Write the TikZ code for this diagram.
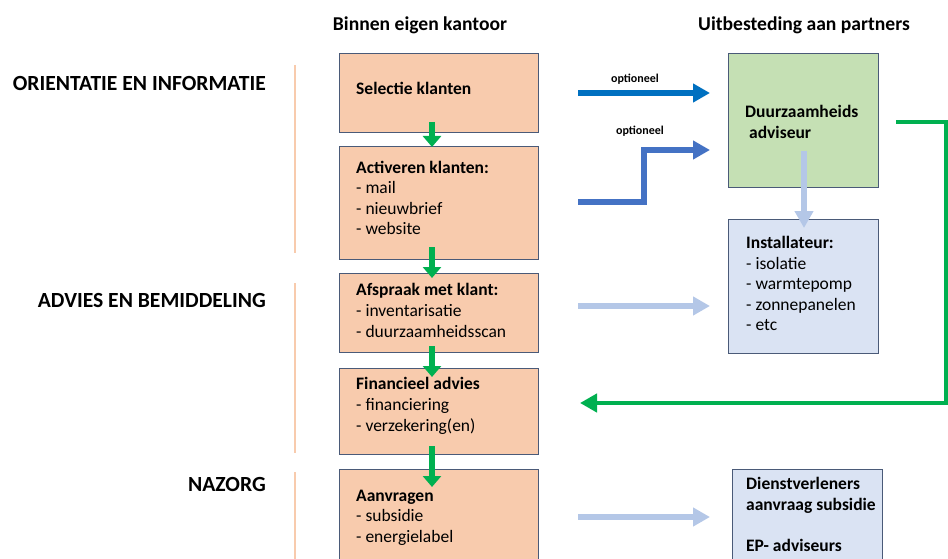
\documentclass[tikz,border=0pt]{standalone}
\usepackage{fontspec}
\setmainfont{Carlito}
\usetikzlibrary{arrows.meta}
\definecolor{boxorange}{HTML}{F8CBAD}
\definecolor{boxgreen}{HTML}{C5E0B4}
\definecolor{boxblue}{HTML}{DAE3F3}
\definecolor{boxline}{HTML}{4A5A78}
\definecolor{arrgreen}{HTML}{00B050}
\definecolor{arrblueA}{HTML}{0070C0}
\definecolor{arrblueB}{HTML}{4472C4}
\definecolor{arrlight}{HTML}{B4C7E7}
\definecolor{sepline}{HTML}{F8CBAD}
\tikzset{
  box/.style={draw=boxline, line width=1.3pt, inner sep=0pt, anchor=north west},
  orangebox/.style={box, fill=boxorange},
  greenbox/.style={box, fill=boxgreen},
  bluebox/.style={box, fill=boxblue},
  boxtext/.style={anchor=north west, align=left, inner sep=0pt, font=\fontsize{17.5}{20.6}\selectfont},
  flowarrow/.style={draw=arrgreen, line width=6pt, -{Triangle[length=11pt,width=18pt]}},
  bluearrowA/.style={draw=arrblueA, line width=5.5pt, -{Triangle[length=17pt,width=18pt]}},
  bluearrowB/.style={draw=arrblueB, line width=6pt, -{Triangle[length=17pt,width=18pt]}},
  lightarrow/.style={draw=arrlight, line width=6pt, -{Triangle[length=17pt,width=18pt]}},
  backarrow/.style={draw=arrgreen, line width=4.5pt, -{Triangle[length=17pt,width=18pt]}},
  header/.style={font=\bfseries\fontsize{19.6}{22}\selectfont, inner sep=0pt},
  phase/.style={font=\bfseries\fontsize{21.6}{24}\selectfont, inner sep=0pt, anchor=east},
  small/.style={font=\bfseries\fontsize{12}{14}\selectfont, inner sep=0pt},
  sep/.style={draw=sepline, line width=1.5pt}
}
\begin{document}
\begin{tikzpicture}[x=1pt,y=-1pt]
\useasboundingbox (0,0) rectangle (948,559);
\clip (0,0) rectangle (948,559);

% headers
\node[header] (h1) at (420,25) {Binnen eigen kantoor};
\node[header] (h2) at (804,25) {Uitbesteding aan partners};

% phase labels
\node[phase] (p1) at (266,83) {ORIENTATIE EN INFORMATIE};
\node[phase] (p2) at (266,300) {ADVIES EN BEMIDDELING};
\node[phase] (p3) at (266,484) {NAZORG};

% separators
\coordinate (s1a) at (295,65); \coordinate (s1b) at (295,253);
\coordinate (s2a) at (295,283); \coordinate (s2b) at (295,453);
\coordinate (s3a) at (295,472); \coordinate (s3b) at (295,570);
\draw[sep] (s1a) -- (s1b);
\draw[sep] (s2a) -- (s2b);
\draw[sep] (s3a) -- (s3b);

% left boxes
\node[orangebox, minimum width=199pt, minimum height=79pt] (b1) at (339,53) {};
\node[orangebox, minimum width=199pt, minimum height=113pt] (b2) at (339,146) {};
\node[orangebox, minimum width=199pt, minimum height=79pt] (b3) at (339,273) {};
\node[orangebox, minimum width=199pt, minimum height=86pt] (b4) at (339,368) {};
\node[orangebox, minimum width=199pt, minimum height=110pt] (b5) at (339,469) {};

\node[boxtext] (t1) at (356,81.5) {\textbf{Selectie klanten}};
\node[boxtext] (t2) at (356,160.5) {\textbf{Activeren klanten:}\\- mail\\- nieuwbrief\\- website};
\node[boxtext] (t3) at (356,283.5) {\textbf{Afspraak met klant:}\\- inventarisatie\\- duurzaamheidsscan};
\node[boxtext] (t4) at (356,377.5) {\textbf{Financieel advies}\\- financiering\\- verzekering(en)};
\node[boxtext] (t5) at (356,489.5) {\textbf{Aanvragen}\\- subsidie\\- energielabel};

% right boxes
\node[greenbox, minimum width=150pt, minimum height=134pt] (r1) at (728,53) {};
\node[bluebox, minimum width=150pt, minimum height=134pt] (r2) at (728,219) {};
\node[bluebox, minimum width=150pt, minimum height=110pt] (r3) at (732,469) {};

\node[boxtext] (u1) at (745,105.5) {\textbf{Duurzaamheids}\\\textbf{\ adviseur}};
\node[boxtext] (u2) at (746,236) {\textbf{Installateur:}\\- isolatie\\- warmtepomp\\- zonnepanelen\\- etc};
\node[boxtext] (u3) at (746,477.5) {\textbf{Dienstverleners}\\\textbf{aanvraag subsidie}\\[\baselineskip]\textbf{EP- adviseurs}};

% green flow arrows
\coordinate (g1s) at (432,122); \coordinate (g1e) at (432,147);
\coordinate (g2s) at (432,247); \coordinate (g2e) at (432,278);
\coordinate (g3s) at (432,346); \coordinate (g3e) at (432,377);
\coordinate (g4s) at (432,446); \coordinate (g4e) at (432,487);
\draw[flowarrow] (g1s) -- (g1e);
\draw[flowarrow] (g2s) -- (g2e);
\draw[flowarrow] (g3s) -- (g3e);
\draw[flowarrow] (g4s) -- (g4e);

% blue optional arrows
\coordinate (a1s) at (578,93); \coordinate (a1e) at (710,93);
\draw[bluearrowA] (a1s) -- (a1e);
\node[small] (o1) at (635,79) {optioneel};

\coordinate (a2s) at (578,202); \coordinate (a2e) at (710,150);
\draw[bluearrowB] (a2s) -- (644,202) -- (644,150) -- (a2e);
\node[small] (o2) at (640,131) {optioneel};

% light arrows
\coordinate (l1s) at (804,151); \coordinate (l1e) at (804,228);
\draw[lightarrow] (l1s) -- (l1e);
\coordinate (l2s) at (578,306); \coordinate (l2e) at (710,306);
\draw[lightarrow] (l2s) -- (l2e);
\coordinate (l3s) at (578,517); \coordinate (l3e) at (710,517);
\draw[lightarrow] (l3s) -- (l3e);

% green feedback
\coordinate (f1) at (896,122); \coordinate (f2) at (946,122);
\coordinate (f3) at (946,403); \coordinate (f4) at (580,403);
\draw[backarrow] (f1) -- (f2) -- (f3) -- (f4);
\end{tikzpicture}
\end{document}
